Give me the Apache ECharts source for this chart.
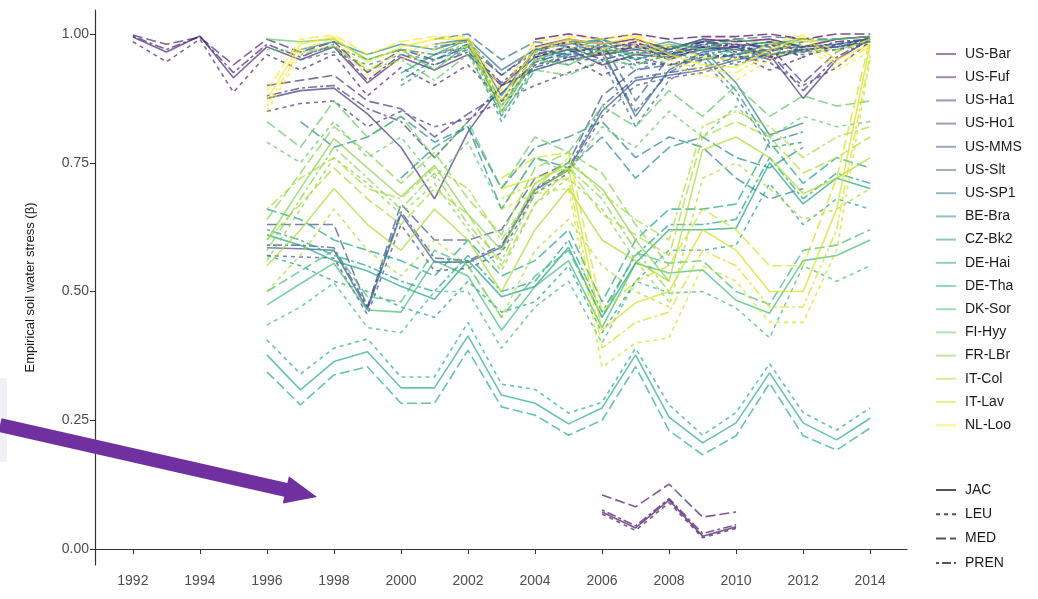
<!DOCTYPE html>
<html><head><meta charset="utf-8">
<script src="https://cdn.jsdelivr.net/npm/echarts@6/dist/echarts.min.js"></script>
<style>html,body{margin:0;padding:0;background:#fff}#c{width:1038px;height:599px}</style>
</head><body><div id="c"></div>
<script>
// ---- labels / ticks ----
const siteNames = ['US-Bar','US-Fuf','US-Ha1','US-Ho1','US-MMS','US-Slt','US-SP1','BE-Bra','CZ-Bk2','DE-Hai','DE-Tha','DK-Sor','FI-Hyy','FR-LBr','IT-Col','IT-Lav','NL-Loo'];
const siteColors = ['#440154','#471365','#482576','#463480','#3B528B','#33628D','#2C728E','#26818D','#21908C','#1FA187','#27AD81','#3FBC73','#5DC863','#84D44B','#AADC32','#D2E21B','#FDE725'];
const methodNames = ['JAC','LEU','MED','PREN'];
const xTickLabels = [1992,1994,1996,1998,2000,2002,2004,2006,2008,2010,2012,2014];
const yTickLabels = [0,0.25,0.5,0.75,1];

// ---- data: first year of each site, then yearly values per method ----
const usBar_start = 2004;
const usBar_JAC  = [.975,.99,.98,.99,.97,.99,.985,.99,.975,.99,.995];
const usBar_LEU  = [.955,.975,.96,.98,.95,.975,.965,.98,.955,.98,.99];
const usBar_MED  = [.99,1.0,.99,1.0,.99,.995,.995,1.0,.99,1.0,1.0];
const usBar_PREN = [.965,.985,.97,.985,.96,.985,.975,.985,.965,.985,.99];

const usFuf_start = 2006;
const usFuf_JAC  = [.072,.041,.095,.025,.043];
const usFuf_LEU  = [.068,.036,.090,.022,.040];
const usFuf_MED  = [.105,.082,.126,.062,.072];
const usFuf_PREN = [.076,.045,.098,.030,.047];

const usHa1_start = 1992;
const usHa1_JAC  = [.994,.965,.996,.915,.975,.95,.975,.905,.955,.93,.96,.9,.955,.97,.94,.96,.955,.97,.975,.95,.97];
const usHa1_LEU  = [.985,.946,.99,.887,.96,.93,.96,.88,.935,.9,.94,.87,.94,.955,.92,.945,.94,.955,.96,.93,.955];
const usHa1_MED  = [.998,.98,.994,.94,.99,.965,.985,.925,.97,.95,.975,.92,.97,.985,.96,.975,.97,.985,.99,.965,.985];
const usHa1_PREN = [.996,.97,.995,.925,.98,.955,.98,.91,.96,.94,.965,.905,.96,.975,.95,.965,.96,.975,.98,.955,.975];

const usHo1_start = 1996;
const usHo1_JAC  = [.875,.89,.895,.845,.78,.68,.81,.9,.93,.95,.96,.97,.96,.975,.97,.96,.875,.95,.99];
const usHo1_LEU  = [.85,.865,.87,.82,.85,.82,.835,.87,.9,.925,.945,.955,.94,.96,.955,.945,.9,.935,.985];
const usHo1_MED  = [.9,.91,.92,.87,.855,.8,.845,.885,.945,.965,.975,.98,.975,.985,.98,.975,.905,.965,.995];
const usHo1_PREN = [.88,.895,.9,.855,.83,.76,.83,.9,.935,.955,.965,.975,.965,.98,.975,.965,.89,.955,.99];

const usMMS_start = 1996;
const usMMS_JAC  = [.585,.583,.58,.465,.65,.557,.557,.586,.697,.736,.85,.91,.92,.93,.95,.96,.97,.975,.985];
const usMMS_LEU  = [.57,.567,.565,.455,.63,.54,.545,.575,.69,.73,.84,.9,.915,.925,.945,.955,.965,.97,.98];
const usMMS_MED  = [.63,.63,.63,.47,.67,.6,.6,.62,.72,.75,.88,.93,.94,.95,.96,.97,.975,.98,.99];
const usMMS_PREN = [.59,.59,.585,.47,.655,.565,.56,.59,.70,.74,.86,.915,.925,.935,.955,.96,.97,.975,.985];

const usSlt_start = 2005;
const usSlt_JAC  = [.97,.97,.84,.93,.965,.975,.985,.975,.98,.99];
const usSlt_LEU  = [.95,.95,.82,.91,.95,.96,.97,.96,.97,.985];
const usSlt_MED  = [.985,.985,.87,.955,.98,.99,.995,.99,.99,.995];
const usSlt_PREN = [.96,.96,.85,.925,.96,.97,.98,.97,.975,.99];

const usSP1_start = 2001;
const usSP1_JAC  = [.98,.99,.93,.97,.96];
const usSP1_LEU  = [.96,.975,.9,.955,.94];
const usSP1_MED  = [.99,1.0,.95,.985,.975];
const usSP1_PREN = [.975,.985,.92,.965,.955];

const beBra_start = 1997;
const beBra_JAC  = [.97,.985,.96,.98,.97,.99,.88,.97,.98,.99,.97,.985,.97,.905,.804,.827];
const beBra_LEU  = [.95,.965,.94,.96,.95,.97,.86,.95,.96,.97,.95,.965,.95,.878,.78,.79];
const beBra_MED  = [.83,.78,.80,.84,.79,.82,.7,.78,.8,.83,.76,.8,.78,.72,.68,.7];
const beBra_PREN = [.96,.975,.95,.97,.96,.98,.87,.96,.97,.98,.96,.975,.96,.89,.79,.81];

const czBk2_start = 2000;
const czBk2_JAC  = [.924,.96,.99,.85,.95,.97,.99,.95,.97,.99,.96,.98,.99];
const czBk2_LEU  = [.9,.94,.97,.83,.93,.95,.97,.93,.95,.97,.94,.96,.97];
const czBk2_MED  = [.72,.78,.82,.66,.76,.74,.8,.72,.78,.8,.76,.74,.78];
const czBk2_PREN = [.91,.95,.98,.84,.94,.96,.98,.94,.96,.98,.95,.97,.98];

const deHai_start = 1996;
const deHai_JAC  = [.61,.59,.56,.54,.51,.485,.56,.49,.51,.586,.45,.555,.62,.62,.623,.75,.67,.72,.70];
const deHai_LEU  = [.57,.55,.52,.5,.47,.45,.52,.46,.48,.55,.42,.52,.58,.58,.59,.71,.63,.68,.66];
const deHai_MED  = [.66,.64,.6,.58,.56,.53,.6,.53,.56,.62,.48,.6,.66,.66,.67,.79,.71,.76,.74];
const deHai_PREN = [.62,.6,.57,.55,.52,.5,.57,.5,.52,.6,.46,.57,.63,.63,.64,.76,.68,.73,.71];

const deTha_start = 1996;
const deTha_JAC  = [.377,.309,.364,.383,.313,.313,.414,.299,.283,.243,.274,.377,.256,.206,.245,.342,.245,.212,.254];
const deTha_LEU  = [.406,.34,.39,.408,.334,.334,.44,.32,.31,.264,.285,.39,.28,.221,.265,.36,.265,.231,.274];
const deTha_MED  = [.344,.28,.338,.354,.283,.283,.386,.276,.26,.221,.25,.354,.23,.183,.22,.322,.22,.192,.235];
const deTha_PREN = null;

const dkSor_start = 1996;
const dkSor_JAC  = [.474,.515,.555,.464,.46,.56,.53,.425,.51,.56,.43,.555,.536,.542,.483,.458,.56,.57,.6];
const dkSor_LEU  = [.435,.47,.517,.43,.42,.5,.5,.39,.47,.52,.4,.52,.497,.5,.468,.41,.55,.52,.55];
const dkSor_MED  = [.5,.54,.58,.49,.48,.58,.55,.45,.53,.58,.45,.575,.555,.56,.5,.475,.58,.59,.62];
const dkSor_PREN = null;

const fiHyy_start = 1996;
const fiHyy_JAC  = [.99,.985,.99,.95,.97,.93,.98,.86,.95,.94,.97,.96,.98,.97,.99,.98,.985,.99,.995];
const fiHyy_LEU  = [.79,.75,.83,.76,.8,.72,.79,.66,.76,.73,.82,.78,.85,.8,.86,.8,.84,.82,.83];
const fiHyy_MED  = [.83,.78,.87,.8,.84,.76,.83,.7,.8,.77,.86,.82,.89,.84,.9,.84,.88,.86,.87];
const fiHyy_PREN = [.97,.965,.975,.93,.95,.91,.96,.845,.93,.92,.95,.94,.96,.95,.97,.96,.965,.97,.985];

const frLBr_start = 1996;
const frLBr_JAC  = [.6,.7,.797,.74,.684,.745,.65,.58,.71,.75,.7,.6,.52];
const frLBr_LEU  = [.56,.66,.76,.71,.65,.71,.62,.54,.67,.72,.66,.56,.48];
const frLBr_MED  = [.64,.73,.82,.77,.71,.77,.68,.61,.74,.77,.73,.63,.55];
const frLBr_PREN = [.58,.68,.78,.72,.66,.73,.63,.56,.69,.74,.68,.58,.5];

const itCol_start = 1996;
const itCol_JAC  = [.55,.62,.7,.63,.58,.66,.6,.5,.62,.7,.6,.56,.52,.775,.8,.76,.69,.72,.76];
const itCol_LEU  = [.5,.57,.66,.58,.53,.6,.55,.45,.58,.64,.55,.5,.47,.72,.75,.7,.64,.66,.7];
const itCol_MED  = [.6,.67,.74,.68,.63,.7,.65,.55,.67,.74,.65,.61,.57,.8,.83,.8,.73,.76,.8];
const itCol_PREN = [.66,.72,.76,.7,.68,.74,.7,.6,.7,.76,.69,.64,.6,.82,.85,.82,.76,.8,.82];

const itLav_start = 2003;
const itLav_JAC  = [.7,.72,.74,.425,.478,.5,.62,.58,.5,.5,.66,.98];
const itLav_LEU  = [.66,.69,.7,.353,.4,.41,.55,.52,.44,.44,.58,.95];
const itLav_MED  = [.72,.76,.77,.46,.52,.55,.66,.62,.55,.55,.72,.99];
const itLav_PREN = [.68,.71,.72,.39,.44,.46,.58,.55,.47,.47,.62,.96];

const nlLoo_start = 1996;
const nlLoo_JAC  = [.872,.98,.994,.945,.975,.99,.99,.872,.973,.99,.98,.995,.96,.94,.935,.97,.994,.95,.98];
const nlLoo_LEU  = [.85,.96,.98,.92,.95,.97,.975,.85,.95,.975,.96,.98,.94,.92,.91,.95,.98,.93,.965];
const nlLoo_MED  = [.89,.99,.998,.96,.985,.995,.995,.89,.985,.995,.99,.998,.975,.955,.95,.98,.998,.965,.99];
const nlLoo_PREN = [.86,.97,.99,.93,.965,.98,.985,.86,.965,.985,.97,.99,.95,.93,.925,.96,.99,.94,.975];

const siteTable = [
  [usBar_start, usBar_JAC, usBar_LEU, usBar_MED, usBar_PREN],
  [usFuf_start, usFuf_JAC, usFuf_LEU, usFuf_MED, usFuf_PREN],
  [usHa1_start, usHa1_JAC, usHa1_LEU, usHa1_MED, usHa1_PREN],
  [usHo1_start, usHo1_JAC, usHo1_LEU, usHo1_MED, usHo1_PREN],
  [usMMS_start, usMMS_JAC, usMMS_LEU, usMMS_MED, usMMS_PREN],
  [usSlt_start, usSlt_JAC, usSlt_LEU, usSlt_MED, usSlt_PREN],
  [usSP1_start, usSP1_JAC, usSP1_LEU, usSP1_MED, usSP1_PREN],
  [beBra_start, beBra_JAC, beBra_LEU, beBra_MED, beBra_PREN],
  [czBk2_start, czBk2_JAC, czBk2_LEU, czBk2_MED, czBk2_PREN],
  [deHai_start, deHai_JAC, deHai_LEU, deHai_MED, deHai_PREN],
  [deTha_start, deTha_JAC, deTha_LEU, deTha_MED, deTha_PREN],
  [dkSor_start, dkSor_JAC, dkSor_LEU, dkSor_MED, dkSor_PREN],
  [fiHyy_start, fiHyy_JAC, fiHyy_LEU, fiHyy_MED, fiHyy_PREN],
  [frLBr_start, frLBr_JAC, frLBr_LEU, frLBr_MED, frLBr_PREN],
  [itCol_start, itCol_JAC, itCol_LEU, itCol_MED, itCol_PREN],
  [itLav_start, itLav_JAC, itLav_LEU, itLav_MED, itLav_PREN],
  [nlLoo_start, nlLoo_JAC, nlLoo_LEU, nlLoo_MED, nlLoo_PREN]
];

// ---- styles ----
const methodDash = {JAC:'solid', LEU:[4,4], MED:[10,4], PREN:[3,3,9,3]};
const LINE_OPACITY = 0.7;

const series = [];
siteTable.forEach((row, si) => {
  const start = row[0];
  methodNames.forEach((m, mi) => {
    const vals = row[mi + 1];
    if (!vals) return;
    series.push({
      type: 'line', name: siteNames[si] + ' ' + m,
      data: vals.map((v, i) => [start + i, v]),
      symbol: 'none', silent: true, animation: false,
      lineStyle: {color: siteColors[si], width: 1.6, type: methodDash[m], opacity: LINE_OPACITY},
      itemStyle: {color: siteColors[si]},
      emphasis: {disabled: true}, z: 2
    });
  });
});
// legend proxies
siteNames.forEach((s, si) => series.push({
  type: 'line', name: s, data: [], symbol: 'none', animation: false,
  lineStyle: {color: siteColors[si], width: 2.4, opacity: 0.5}, itemStyle: {color: siteColors[si]}
}));
methodNames.forEach(m => series.push({
  type: 'line', name: m, data: [], symbol: 'none', animation: false,
  lineStyle: {color: '#555555', width: 2.2, type: methodDash[m]}, itemStyle: {color: '#555555'}
}));

const chart = echarts.init(document.getElementById('c'), null, {renderer: 'canvas'});
const font = 'Liberation Sans, Arial, sans-serif';
chart.setOption({
  animation: false,
  backgroundColor: '#ffffff',
  grid: {left: 95, right: 131, top: 10, bottom: 34, containLabel: false},
  xAxis: {
    type: 'value', min: 1990.87, max: 2015.1,
    axisLine: {show: true, lineStyle: {color: '#333333', width: 1.2}},
    axisTick: {show: true, length: 5, lineStyle: {color: '#333333'}, customValues: xTickLabels},
    axisLabel: {customValues: xTickLabels, color: '#4d4d4d', fontSize: 14, fontFamily: font, margin: 9, formatter: v => String(v)},
    splitLine: {show: false}
  },
  yAxis: {
    type: 'value', min: -0.031, max: 1.0466,
    name: 'Empirical soil water stress (β)', nameLocation: 'middle', nameGap: 58, nameRotate: 90,
    nameTextStyle: {color: '#1a1a1a', fontSize: 13, fontFamily: font},
    axisLine: {show: true, lineStyle: {color: '#333333', width: 1.2}},
    axisTick: {show: true, length: 5, lineStyle: {color: '#333333'}, customValues: yTickLabels},
    axisLabel: {customValues: yTickLabels, color: '#4d4d4d', fontSize: 14, fontFamily: font, margin: 6, formatter: v => v.toFixed(2)},
    splitLine: {show: false}
  },
  legend: [
    {data: siteNames, orient: 'vertical', left: 930, top: 42, itemWidth: 20, itemHeight: 14, itemGap: 9.2,
     itemStyle: {opacity: 0, borderWidth: 0},
     textStyle: {color: '#1a1a1a', fontSize: 14, fontFamily: font, padding: [0, 0, 0, 4]}, selectedMode: false},
    {data: methodNames, orient: 'vertical', left: 930, top: 478, itemWidth: 20, itemHeight: 14, itemGap: 10.3,
     itemStyle: {opacity: 0, borderWidth: 0},
     textStyle: {color: '#1a1a1a', fontSize: 14, fontFamily: font, padding: [0, 0, 0, 4]}, selectedMode: false}
  ],
  graphic: [
    {type: 'rect', left: 0, top: 378, shape: {width: 7, height: 84}, style: {fill: '#f1eff8'}, z: 1},
    {type: 'polygon', shape: {points: [[1.55,418.2],[287.35,483.1],[288.9,476.3],[317,497],[282.7,503.6],[284.25,496.7],[-1.55,431.8]]},
     style: {fill: '#7030a0'}, z: 100}
  ],
  series: series
});
</script></body></html>
